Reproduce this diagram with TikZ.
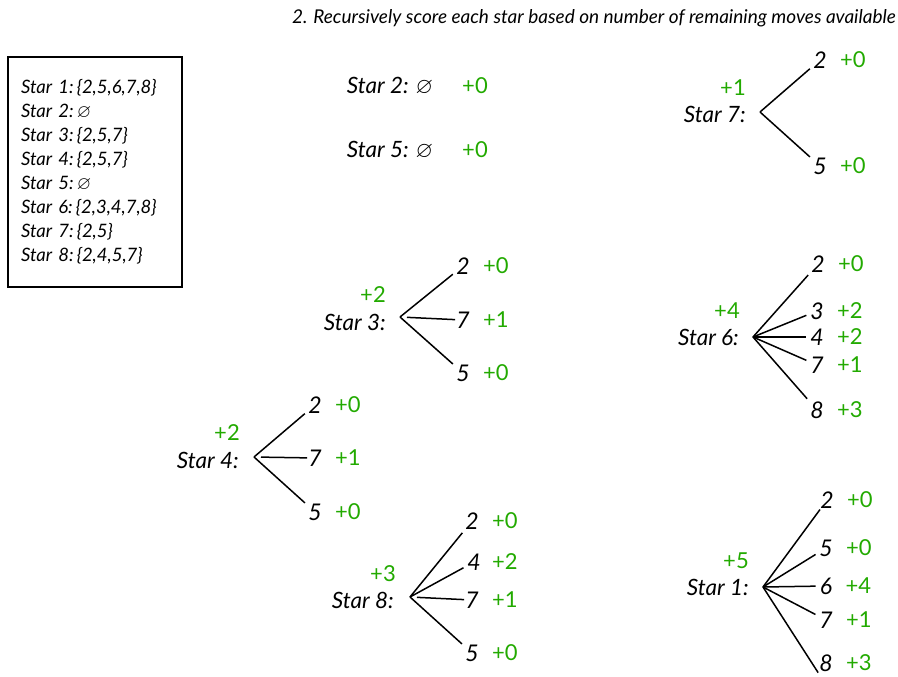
\documentclass[tikz,border=0pt]{standalone}
\usepackage{amssymb}
\usepackage{fontspec}
\setmainfont{Lato}
\usepackage{xcolor}
\usetikzlibrary{positioning}
\definecolor{scoregreen}{RGB}{34,170,0}

\begin{document}
\begin{tikzpicture}[
  x=1pt, y=-1pt,
  node distance=11pt,
  starlabel/.style={font=\fontsize{22.5}{24}\selectfont\itshape, inner sep=1pt},
  leaf/.style={font=\fontsize{23}{24}\selectfont\itshape, inner sep=1pt},
  score/.style={font=\fontsize{22}{23}\selectfont, text=scoregreen, inner sep=1pt},
  branch/.style={line width=1.5pt, shorten >=3pt},
  listbox/.style={draw, line width=1.5pt, minimum width=174pt, minimum height=230pt, text width=148pt, inner xsep=13pt, align=left, font=\fontsize{18.5}{24}\selectfont\itshape}
]
\useasboundingbox (0,0) rectangle (898,677);

\node[font=\fontsize{19}{21}\selectfont\itshape, anchor=east, inner sep=0pt] (title) at (896,18) {2. Recursively score each star based on number of remaining moves available};

\node[listbox] (list) at (95,172) {Star 1:\,\{2,5,6,7,8\}\\Star 2:\,$\varnothing$\\Star 3:\,\{2,5,7\}\\Star 4:\,\{2,5,7\}\\Star 5:\,$\varnothing$\\Star 6:\,\{2,3,4,7,8\}\\Star 7:\,\{2,5\}\\Star 8:\,\{2,4,5,7\}};

\node[starlabel] (s2) at (390,86) {Star 2: $\varnothing$};
\node[score] (s2sc) at (475,86) {+0};
\node[starlabel] (s5) at (390,150) {Star 5: $\varnothing$};
\node[score] (s5sc) at (475,150) {+0};

\coordinate (o7) at (760,112);
\node[starlabel, anchor=east] (s7) at (747,114) {Star 7:};
\node[score] (s7sc) at (733,88) {+1};
\node[leaf] (s7n2) at (820,60) {2};
\node[leaf] (s7n5) at (820,166) {5};
\node[score, right=of s7n2] (s7n2sc) {+0};
\node[score, right=of s7n5] (s7n5sc) {+0};
\draw[branch] (o7) -- (s7n2);
\draw[branch] (o7) -- (s7n5);

\coordinate (o3) at (400,317);
\node[starlabel, anchor=east] (s3) at (387,322) {Star 3:};
\node[score] (s3sc) at (373,295) {+2};
\node[leaf] (s3n2) at (463,266) {2};
\node[leaf] (s3n7) at (463,320) {7};
\node[leaf] (s3n5) at (463,373) {5};
\node[score, right=of s3n2] (s3n2sc) {+0};
\node[score, right=of s3n7] (s3n7sc) {+1};
\node[score, right=of s3n5] (s3n5sc) {+0};
\draw[branch] (o3) -- (s3n2);
\draw[branch, shorten <=7pt, shorten >=0pt] (o3) -- (s3n7);
\draw[branch] (o3) -- (s3n5);

\coordinate (o4) at (254,457);
\node[starlabel, anchor=east] (s4) at (240,460) {Star 4:};
\node[score] (s4sc) at (227,433) {+2};
\node[leaf] (s4n2) at (315,405) {2};
\node[leaf] (s4n7) at (315,458) {7};
\node[leaf] (s4n5) at (315,512) {5};
\node[score, right=of s4n2] (s4n2sc) {+0};
\node[score, right=of s4n7] (s4n7sc) {+1};
\node[score, right=of s4n5] (s4n5sc) {+0};
\draw[branch] (o4) -- (s4n2);
\draw[branch, shorten <=7pt, shorten >=0pt] (o4) -- (s4n7);
\draw[branch] (o4) -- (s4n5);

\coordinate (o8) at (410,597);
\node[starlabel, anchor=east] (s8) at (395,600) {Star 8:};
\node[score] (s8sc) at (383,574) {+3};
\node[leaf] (s8n2) at (472,521) {2};
\node[leaf] (s8n4) at (474,562) {4};
\node[leaf] (s8n7) at (472,600) {7};
\node[leaf] (s8n5) at (472,653) {5};
\node[score, right=of s8n2] (s8n2sc) {+0};
\node[score, right=9pt of s8n4] (s8n4sc) {+2};
\node[score, right=of s8n7] (s8n7sc) {+1};
\node[score, right=of s8n5] (s8n5sc) {+0};
\draw[branch] (o8) -- (s8n2);
\draw[branch] (o8) -- (s8n4);
\draw[branch, shorten <=7pt, shorten >=0pt] (o8) -- (s8n7);
\draw[branch] (o8) -- (s8n5);

\coordinate (o6) at (753,337);
\node[starlabel, anchor=east] (s6) at (740,337) {Star 6:};
\node[score] (s6sc) at (727,311) {+4};
\node[leaf] (s6n2) at (818,264) {2};
\node[leaf] (s6n3) at (817,311) {3};
\node[leaf] (s6n4) at (817,337) {4};
\node[leaf] (s6n7) at (817,365) {7};
\node[leaf] (s6n8) at (817,410) {8};
\node[score, right=of s6n2] (s6n2sc) {+0};
\node[score, right=of s6n3] (s6n3sc) {+2};
\node[score, right=of s6n4] (s6n4sc) {+2};
\node[score, right=of s6n7] (s6n7sc) {+1};
\node[score, right=of s6n8] (s6n8sc) {+3};
\draw[branch] (o6) -- (s6n2);
\draw[branch] (o6) -- (s6n3);
\draw[branch] (o6) -- (s6n4);
\draw[branch] (o6) -- (s6n7);
\draw[branch] (o6) -- (s6n8);

\coordinate (o1) at (763,587);
\node[starlabel, anchor=east] (s1) at (750,587) {Star 1:};
\node[score] (s1sc) at (736,561) {+5};
\node[leaf] (s1n2) at (827,500) {2};
\node[leaf] (s1n5) at (826,548) {5};
\node[leaf] (s1n6) at (826,586) {6};
\node[leaf] (s1n7) at (826,620) {7};
\node[leaf] (s1n8) at (826,663) {8};
\node[score, right=of s1n2] (s1n2sc) {+0};
\node[score, right=of s1n5] (s1n5sc) {+0};
\node[score, right=of s1n6] (s1n6sc) {+4};
\node[score, right=of s1n7] (s1n7sc) {+1};
\node[score, right=of s1n8] (s1n8sc) {+3};
\draw[branch, shorten >=0pt] (o1) -- (s1n2);
\draw[branch] (o1) -- (s1n5);
\draw[branch] (o1) -- (s1n6);
\draw[branch] (o1) -- (s1n7);
\draw[branch, shorten >=0pt] (o1) -- (s1n8.south west);
\end{tikzpicture}
\end{document}
